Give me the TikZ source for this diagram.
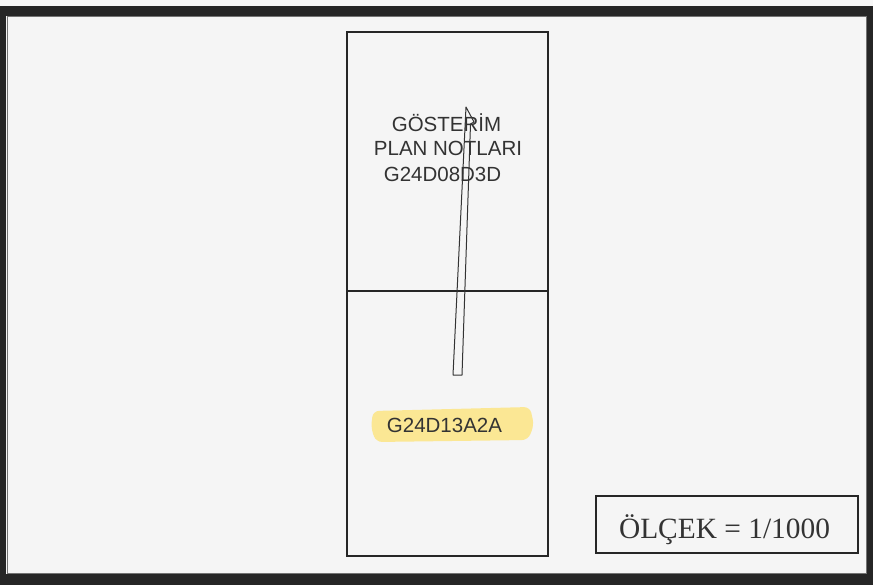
\documentclass[tikz,border=0pt]{standalone}
\usepackage{fontspec}
\setmainfont{Liberation Sans}
\newfontfamily\serifscale{Liberation Serif}
\begin{document}
\begin{tikzpicture}[x=1pt,y=-1pt,
  labeltext/.style={font=\fontsize{20.5}{23}\selectfont, text=black!80, inner sep=0pt, anchor=base},
  thinline/.style={draw=black!85, line width=1.1pt}]
\useasboundingbox (0,0) rectangle (873,585);
% outer frame
\fill[black!3] (0,0) rectangle (873,585);
\fill[black!85] (0,6) rectangle (873,585);
\fill[black!4] (6,16) rectangle (867,574);
\draw[black!55, line width=1pt] (7,17) rectangle (866,573);
% main sheet
\coordinate (tl) at (347,32);
\coordinate (tr) at (548,32);
\coordinate (ml) at (347,291);
\coordinate (mr) at (548,291);
\coordinate (bl) at (347,556);
\coordinate (br) at (548,556);
\draw[thinline] (tl) rectangle (br);
\draw[thinline] (ml) -- (mr);
% highlight
\fill[yellow!65!orange!50, opacity=0.8, rounded corners=6pt]
  (373,411) -- (530,407) -- (534,425) -- (528,440) -- (376,442) -- (371,428) -- cycle;
% texts
\node[labeltext] (t1) at (446.5,132) {GÖSTERİM};
\node[labeltext] (t2) at (448,156) {PLAN NOTLARI};
\node[labeltext] (t3) at (442.5,182) {G24D08D3D};
\node[labeltext] (t4) at (444.5,432) {G24D13A2A};
% arrow
\coordinate (a1) at (453,375);
\coordinate (tip) at (466,107);
\coordinate (h1) at (474,122);
\coordinate (h2) at (470.5,124);
\coordinate (a2) at (462,375);
\draw[draw=black!80, line width=1pt, line join=round] (a1) -- (tip) -- (h1) -- (h2) -- (a2) -- cycle;
% scale box
\node[draw=black!85, line width=1.1pt, minimum width=262pt, minimum height=57pt, inner sep=0pt] (sc) at (727,524.5) {};
\node[font=\serifscale\fontsize{29.4}{32}\selectfont, text=black!80, inner sep=0pt, anchor=base] (sct) at (724.5,538) {ÖLÇEK = 1/1000};
\end{tikzpicture}
\end{document}
